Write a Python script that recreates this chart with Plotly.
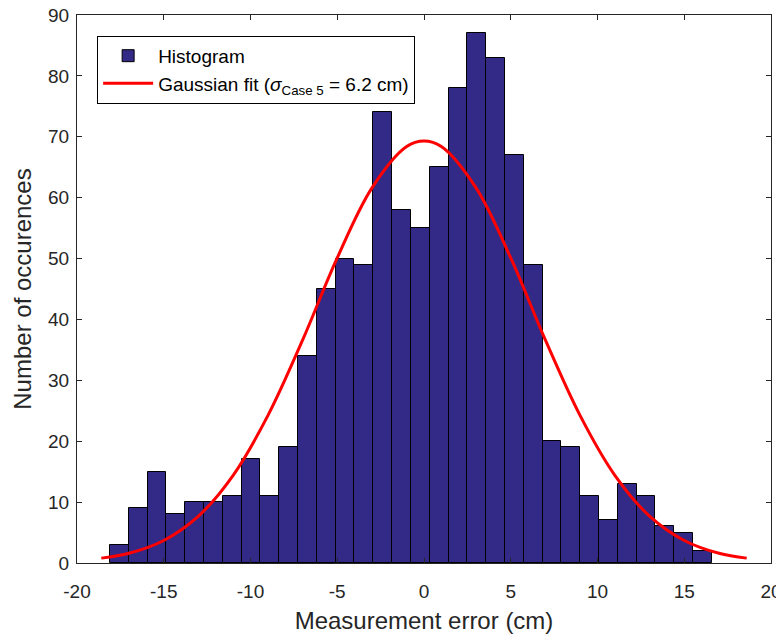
import plotly.graph_objects as go

# histogram counts (32 equal bins)
counts = [3, 9, 15, 8, 10, 10, 11, 17, 11, 19,
          34, 45, 50, 49, 74, 58, 55, 65, 78, 87,
          83, 67, 49, 20, 19, 11, 7, 13, 11, 6, 5, 2]
bin_start = -18.1
bin_width = 1.084

# gaussian fit curve
fit_x = [-18.6, -17, -15, -13, -11, -9, -7, -5, -3, -1, 0,
         1, 3, 5, 7, 9, 11, 13, 15, 17, 18.6]
fit_y = [0.8, 1.6, 3.7, 7.7, 14.4, 24.2, 36.6, 50.1, 61.6, 68.4, 69.3,
         68.4, 61.6, 50.1, 36.6, 24.2, 14.4, 7.7, 3.7, 1.6, 0.8]

x_ticks = [-20, -15, -10, -5, 0, 5, 10, 15, 20]
y_ticks = [0, 10, 20, 30, 40, 50, 60, 70, 80, 90]

centers = [bin_start + bin_width * (i + 0.5) for i in range(len(counts))]

axis_col = '#262626'
font = 'Liberation Sans, Arial, sans-serif'

fig = go.Figure()
fig.add_trace(go.Bar(
    x=centers, y=counts, width=bin_width, name='Histogram',
    marker=dict(color='rgb(51,41,135)', line=dict(color='black', width=1)),
))
fig.add_trace(go.Scatter(
    x=fit_x, y=fit_y, mode='lines', line_shape='spline',
    name='Gaussian fit (<i>σ</i><sub>Case 5</sub> = 6.2 cm)',
    line=dict(color='#ff0000', width=3),
))

# page body has an 8px margin, so the figure is 8px smaller and shifted
fig.update_layout(
    width=776, height=626,
    margin=dict(l=69, r=13, t=7, b=71),
    plot_bgcolor='white', paper_bgcolor='white',
    font=dict(family=font, size=19, color=axis_col),
    bargap=0,
    legend=dict(
        x=0.029, y=0.962, xanchor='left', yanchor='top',
        bgcolor='white', bordercolor='black', borderwidth=1,
        font=dict(size=19, color='black'),
        itemwidth=50, tracegroupgap=0,
    ),
)
fig.update_xaxes(
    range=[-20, 20], tickvals=x_ticks, ticktext=[str(v) for v in x_ticks],
    showgrid=False, zeroline=False, automargin=False,
    showline=True, linecolor=axis_col, linewidth=1, mirror='ticks',
    ticks='inside', ticklen=5, tickcolor=axis_col, ticklabelstandoff=11,
    ticklabeloverflow='allow',
    title=dict(text='Measurement error (cm)', font=dict(size=24), standoff=12),
)
fig.update_yaxes(
    range=[0, 90], tickvals=y_ticks, ticktext=[str(v) for v in y_ticks],
    showgrid=False, zeroline=False, automargin=False,
    showline=True, linecolor=axis_col, linewidth=1, mirror='ticks',
    ticks='inside', ticklen=5, tickcolor=axis_col, ticklabelstandoff=3,
    ticklabeloverflow='allow',
    title=dict(text='Number of occurences', font=dict(size=24), standoff=9),
)

fig.write_html("out.html")
